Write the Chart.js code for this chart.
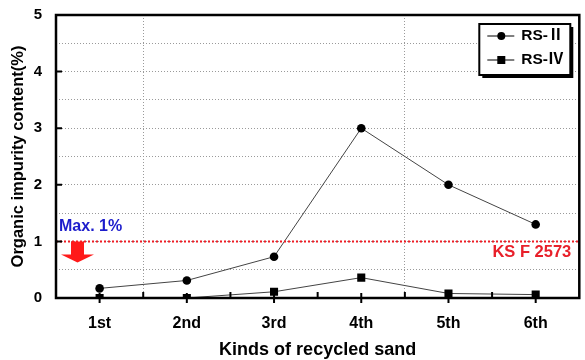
<!DOCTYPE html>
<html>
<head>
<meta charset="utf-8">
<script src="https://cdn.jsdelivr.net/npm/chart.js@4/dist/chart.umd.min.js"></script>
<style>
html,body{margin:0;padding:0;background:#fff;}
canvas{display:block;}
</style>
</head>
<body>
<canvas id="c" width="585" height="360"></canvas>
<script>
const categories = ['1st', '2nd', '3rd', '4th', '5th', '6th'];
const seriesNames = ['RS-Ⅱ', 'RS-Ⅳ'];
const rs2 = [0.17, 0.31, 0.73, 3.0, 2.0, 1.3];
const rs4 = [0.0, 0.0, 0.11, 0.36, 0.08, 0.06];
const yTickLabels = [0, 1, 2, 3, 4, 5];
const limitValue = 1;
const limitLabel = 'Max. 1%';
const standardLabel = 'KS F 2573';
const xTitle = 'Kinds of recycled sand';
const yTitle = 'Organic impurity content(%)';

const FONT = '"Liberation Sans", Arial, "DejaVu Sans", sans-serif';
const LEGEND_FONT = '"Liberation Sans", "Noto Sans CJK KR", sans-serif';

const decor = {
  id: 'decor',
  afterDatasetsDraw(chart) {
    const {ctx, chartArea: a, scales: {x, y}} = chart;
    ctx.save();
    // red limit line
    const yl = Math.round(y.getPixelForValue(limitValue)) + 0.5;
    ctx.strokeStyle = '#ee1c24';
    ctx.lineWidth = 2.2;
    ctx.setLineDash([2, 2]);
    ctx.beginPath();
    ctx.moveTo(a.left, yl);
    ctx.lineTo(a.right, yl);
    ctx.stroke();
    ctx.setLineDash([]);
    // labels
    ctx.font = 'bold 16px ' + FONT;
    ctx.fillStyle = '#1c1ccc';
    ctx.textAlign = 'left';
    ctx.textBaseline = 'middle';
    ctx.fillText(limitLabel, a.left + 3, yl - 15);
    ctx.fillStyle = '#e8202a';
    ctx.textAlign = 'right';
    ctx.font = 'bold 16.5px ' + FONT;
    ctx.fillText(standardLabel, a.right - 8, yl + 11);
    // arrow
    const ax = a.left + 21;
    ctx.fillStyle = '#ff1a1a';
    ctx.beginPath();
    ctx.moveTo(ax - 6, yl);
    ctx.lineTo(ax + 7, yl);
    ctx.lineTo(ax + 7, yl + 13);
    ctx.lineTo(ax + 17, yl + 13);
    ctx.lineTo(ax + 0.5, yl + 21);
    ctx.lineTo(ax - 16, yl + 13);
    ctx.lineTo(ax - 6, yl + 13);
    ctx.closePath();
    ctx.fill();
    // frame
    ctx.strokeStyle = '#000';
    ctx.lineWidth = 2.5;
    ctx.strokeRect(a.left, a.top, a.right - a.left, a.bottom - a.top);
    // inward ticks
    ctx.lineWidth = 2;
    ctx.beginPath();
    yTickLabels.forEach(v => {
      const py = y.getPixelForValue(v);
      ctx.moveTo(a.left, py);
      ctx.lineTo(a.left + 6, py);
    });
    const step = (a.right - a.left) / categories.length;
    for (let i = 1; i < categories.length; i++) {
      const px = a.left + step * i;
      ctx.moveTo(px, a.bottom);
      ctx.lineTo(px, a.bottom - 6);
    }
    categories.forEach((c, i) => {
      const px = x.getPixelForValue(i);
      ctx.moveTo(px, a.bottom - 5);
      ctx.lineTo(px, a.bottom + 5);
    });
    ctx.stroke();
    // legend
    const lx = a.right - 100, ly = a.top + 9, lw = 91, lh = 51;
    ctx.fillStyle = '#000';
    ctx.fillRect(lx + 3, ly + 3, lw, lh);
    ctx.fillStyle = '#fff';
    ctx.fillRect(lx, ly, lw, lh);
    ctx.lineWidth = 2;
    ctx.strokeRect(lx, ly, lw, lh);
    chart.data.datasets.forEach((ds, i) => {
      const ry = ly + 12 + i * 24;
      ctx.strokeStyle = '#000';
      ctx.lineWidth = 1;
      ctx.beginPath();
      ctx.moveTo(lx + 8, ry);
      ctx.lineTo(lx + 35, ry);
      ctx.stroke();
      ctx.fillStyle = '#000';
      if (ds.pointStyle === 'rect') {
        ctx.fillRect(lx + 18, ry - 4, 8, 8);
      } else {
        ctx.beginPath();
        ctx.arc(lx + 22, ry, 4, 0, Math.PI * 2);
        ctx.fill();
      }
      ctx.font = 'bold 15.5px ' + LEGEND_FONT;
      ctx.textAlign = 'left';
      ctx.textBaseline = 'middle';
      ctx.fillText(ds.label, lx + 42, ry);
    });
    ctx.restore();
  }
};

new Chart(document.getElementById('c'), {
  type: 'line',
  data: {
    labels: categories,
    datasets: [
      {label: seriesNames[0], data: rs2, borderColor: '#444', borderWidth: 1,
       pointStyle: 'circle', pointRadius: 4.3, pointBackgroundColor: '#000', pointBorderColor: '#000', pointBorderWidth: 0},
      {label: seriesNames[1], data: rs4, borderColor: '#444', borderWidth: 1,
       pointStyle: 'rect', pointRadius: 5.7, pointBackgroundColor: '#000', pointBorderColor: '#000', pointBorderWidth: 0}
    ]
  },
  options: {
    responsive: false,
    animation: false,
    devicePixelRatio: 1,
    layout: {padding: {top: 15, right: 1.5, left: 2, bottom: 0}},
    plugins: {legend: {display: false}, tooltip: {enabled: false}},
    scales: {
      x: {
        type: 'category',
        offset: true,
        afterFit: s => { s.height = 62; s.paddingLeft = 0; s.paddingRight = 0; },
        grid: {
          offset: true,
          drawTicks: false,
          color: ctx => (ctx.index === 1 || ctx.index === 4) ? '#9a9a9a' : 'rgba(0,0,0,0)',
          lineWidth: 1
        },
        border: {display: false, dash: [1, 2]},
        ticks: {color: '#000', font: {family: FONT, size: 16, weight: 'bold'}, padding: 16},
        title: {display: true, text: xTitle, color: '#000', font: {family: FONT, size: 18, weight: 'bold'}, padding: {top: 0, bottom: -1}}
      },
      y: {
        min: 0, max: 5,
        afterFit: s => { s.width = 54; s.paddingTop = 0; s.paddingBottom = 0; },
        grid: {drawTicks: false, color: '#9a9a9a', lineWidth: 1},
        border: {display: false, dash: [1, 2]},
        ticks: {
          stepSize: 0.5,
          color: '#000',
          font: {family: FONT, size: 15, weight: 'bold'},
          padding: 14,
          callback: v => yTickLabels.includes(v) ? String(v) : ''
        },
        title: {display: true, text: yTitle, color: '#000', font: {family: FONT, size: 16.5, weight: 'bold'}, padding: {top: 7, bottom: 0}}
      }
    }
  },
  plugins: [decor]
});
</script>
</body>
</html>
